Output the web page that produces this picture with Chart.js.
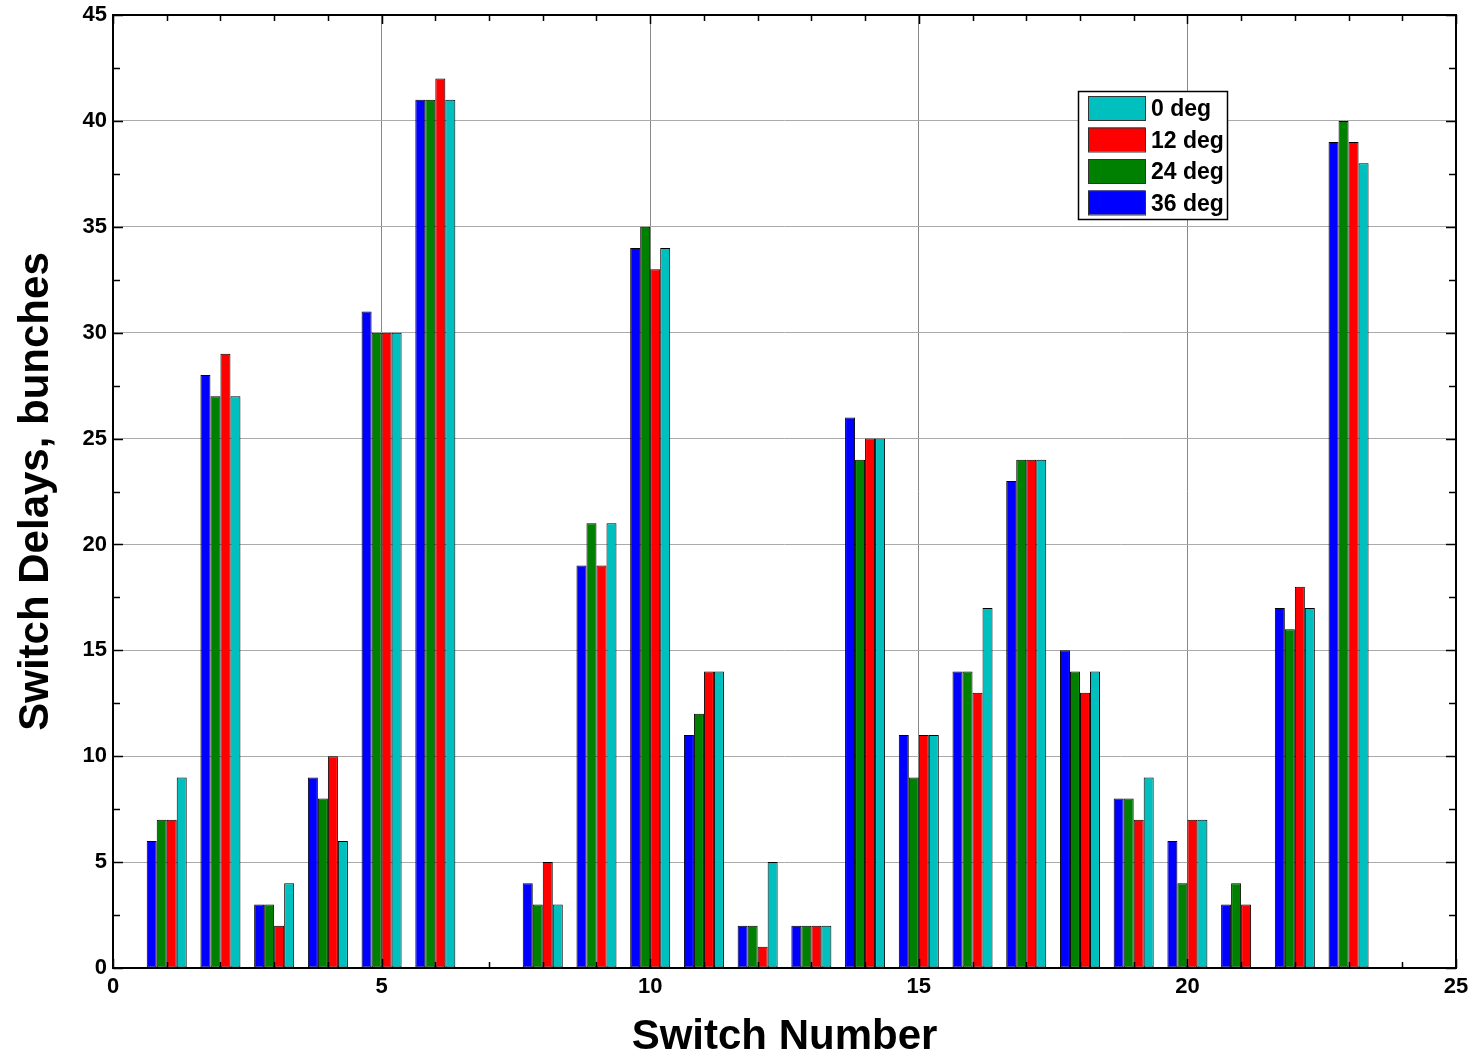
<!DOCTYPE html>
<html>
<head>
<meta charset="utf-8">
<script src="https://cdn.jsdelivr.net/npm/chart.js@4/dist/chart.umd.min.js"></script>
<style>
  html, body { margin: 0; padding: 0; background: #fff; }
  #wrap { width: 1476px; height: 1056px; }
</style>
</head>
<body>
<div id="wrap"><canvas id="myChart" width="1476" height="1056"></canvas></div>
<script>
const CHART = document.getElementById('myChart');

// data
const switchNumbers = [1, 2, 3, 4, 5, 6, 7, 8, 9, 10, 11, 12, 13, 14, 15, 16, 17, 18, 19, 20, 21, 22, 23];
const deg36 = [6, 28, 3, 9, 31, 41, 0, 4, 19, 34, 11, 2, 2, 26, 11, 14, 23, 15, 8, 6, 3, 17, 39];
const deg24 = [7, 27, 3, 8, 30, 41, 0, 3, 21, 35, 12, 2, 2, 24, 9, 14, 24, 14, 8, 4, 4, 16, 40];
const deg12 = [7, 29, 2, 10, 30, 42, 0, 5, 19, 33, 14, 1, 2, 25, 11, 13, 24, 13, 7, 7, 3, 18, 39];
const deg0 = [9, 27, 4, 6, 30, 41, 0, 3, 21, 34, 14, 5, 2, 25, 11, 17, 24, 14, 9, 7, 0, 17, 38];
const seriesNames = ['36 deg', '24 deg', '12 deg', '0 deg'];
const xTicks = [0, 5, 10, 15, 20, 25];
const yTicks = [0, 5, 10, 15, 20, 25, 30, 35, 40, 45];

const COLORS = ['#0000FF', '#008000', '#FF0000', '#00BFBF'];
const FONT = "'Liberation Sans', Arial, sans-serif";

// inward ticks on all four sides plus the black axes box
const axesBox = {
    id: 'axesBox',
    afterDatasetsDraw(chart) {
        const {ctx, chartArea: a, scales: {x, y}} = chart;
        ctx.save();
        ctx.strokeStyle = '#000';
        ctx.lineWidth = 1.5;
        ctx.beginPath();
        for (let v = 0; v <= 25; v++) {
            const px = Math.round(x.getPixelForValue(v)) + 0.5;
            const len = v % 5 === 0 ? 9 : 6;
            ctx.moveTo(px, a.bottom); ctx.lineTo(px, a.bottom - len);
            ctx.moveTo(px, a.top); ctx.lineTo(px, a.top + len);
        }
        for (let v = 0; v <= 45; v += 2.5) {
            const py = Math.round(y.getPixelForValue(v)) + 0.5;
            const len = v % 5 === 0 ? 10 : 7;
            ctx.moveTo(a.left, py); ctx.lineTo(a.left + len, py);
            ctx.moveTo(a.right, py); ctx.lineTo(a.right - len, py);
        }
        ctx.stroke();
        ctx.lineWidth = 2;
        ctx.strokeRect(a.left, a.top, a.right - a.left, a.bottom - a.top);
        ctx.restore();
    }
};

// legend box inside the plot, reversed order like the original
const boxLegend = {
    id: 'boxLegend',
    afterDraw(chart) {
        const {ctx} = chart;
        const left = 1078, top = 91, w = 149, h = 128;
        ctx.save();
        ctx.fillStyle = '#fff';
        ctx.fillRect(left, top, w, h);
        ctx.strokeStyle = '#000';
        ctx.lineWidth = 1.5;
        ctx.strokeRect(left + 0.5, top + 0.5, w, h);
        ctx.font = 'bold 23px ' + FONT;
        ctx.textBaseline = 'middle';
        const order = [3, 2, 1, 0];
        order.forEach((di, i) => {
            const ds = chart.data.datasets[di];
            const cy = top + 17 + i * 31.5;
            ctx.fillStyle = ds.backgroundColor;
            ctx.fillRect(left + 10, cy - 12, 57, 24);
            ctx.strokeStyle = '#333';
            ctx.lineWidth = 1;
            ctx.strokeRect(left + 10.5, cy - 11.5, 57, 24);
            ctx.fillStyle = '#000';
            ctx.fillText(ds.label, left + 73, cy + 2);
        });
        ctx.restore();
    }
};

const makeDataset = (name, values, color) => ({
    label: name,
    data: values,
    backgroundColor: color,
    borderColor: '#000',
    borderWidth: 1,
    borderSkipped: false,
    categoryPercentage: 0.745,
    barPercentage: 1.0
});

new Chart(CHART, {
    type: 'bar',
    data: {
        labels: switchNumbers,
        datasets: [
            makeDataset(seriesNames[0], deg36, COLORS[0]),
            makeDataset(seriesNames[1], deg24, COLORS[1]),
            makeDataset(seriesNames[2], deg12, COLORS[2]),
            makeDataset(seriesNames[3], deg0, COLORS[3])
        ]
    },
    options: {
        responsive: false,
        animation: false,
        layout: { padding: { top: 15, right: 20, left: 0, bottom: 0 } },
        plugins: {
            legend: { display: false },
            tooltip: { enabled: false }
        },
        scales: {
            x: {
                type: 'linear',
                min: 0,
                max: 25,
                offset: false,
                afterBuildTicks: (scale) => { scale.ticks = xTicks.map(v => ({value: v})); },
                afterFit: (scale) => { scale.height = 88; scale.paddingLeft = 0; scale.paddingRight = 0; },
                grid: { offset: false, color: '#888', lineWidth: 1, drawTicks: false },
                border: { display: false },
                ticks: {
                    color: '#000',
                    padding: 6,
                    maxRotation: 0,
                    font: { family: FONT, size: 22, weight: 'bold' }
                },
                title: {
                    display: true,
                    text: 'Switch Number',
                    color: '#000',
                    padding: 0,
                    font: { family: FONT, size: 42, weight: 'bold', lineHeight: 0.88 }
                }
            },
            y: {
                min: 0,
                max: 45,
                afterBuildTicks: (scale) => { scale.ticks = yTicks.map(v => ({value: v})); },
                afterFit: (scale) => { scale.width = 113; scale.paddingTop = 0; scale.paddingBottom = 0; },
                grid: { color: '#aaa', lineWidth: 1, drawTicks: false },
                border: { display: false },
                ticks: {
                    color: '#000',
                    padding: 6,
                    font: { family: FONT, size: 22, weight: 'bold' }
                },
                title: {
                    display: true,
                    text: 'Switch Delays, bunches',
                    color: '#000',
                    padding: { top: 18, bottom: 0 },
                    font: { family: FONT, size: 42, weight: 'bold', lineHeight: 0.88 }
                }
            }
        }
    },
    plugins: [axesBox, boxLegend]
});
</script>
</body>
</html>
